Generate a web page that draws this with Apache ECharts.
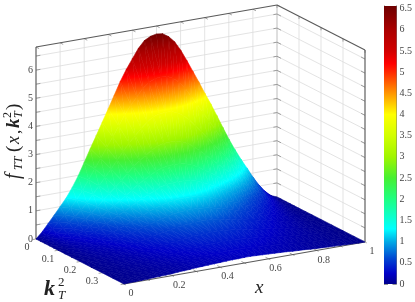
<!DOCTYPE html>
<html><head><meta charset="utf-8">
<style>html,body{margin:0;padding:0;background:#fff}#c{width:415px;height:302px}</style>
<script src="https://cdn.jsdelivr.net/npm/echarts@6/dist/echarts.min.js"></script>
</head><body><div id="c"></div>
<script>
// ---- data ----
const xValues = [0,.025,.05,.075,.1,.125,.15,.175,.2,.225,.25,.275,.3,.325,.35,.375,.4,.425,.45,.475,.5,.525,.55,.575,.6,.625,.65,.675,.7,.725,.75,.775,.8,.825,.85,.875,.9,.925,.95,.975,1];
const kValues = [0,.02,.04,.06,.08,.1,.13,.16,.2,.25,.3,.35,.4];
const surfaceRow0  = [0,.21,.47,.73,1.0,1.27,1.6,1.98,2.42,2.87,3.3,3.74,4.18,4.63,5.08,5.47,5.81,6.14,6.38,6.49,6.54,6.51,6.37,6.15,5.82,5.42,5.0,4.58,4.14,3.72,3.27,2.81,2.36,1.95,1.57,1.22,.86,.54,.28,.09,0];
const surfaceRow1  = [0,.16,.37,.57,.78,.99,1.25,1.54,1.89,2.24,2.57,2.92,3.26,3.61,3.96,4.27,4.53,4.79,4.98,5.06,5.10,5.08,4.97,4.80,4.54,4.23,3.90,3.57,3.23,2.90,2.55,2.19,1.84,1.52,1.22,.95,.67,.42,.22,.07,0];
const surfaceRow2  = [0,.13,.28,.44,.60,.76,.96,1.19,1.45,1.72,1.98,2.24,2.51,2.78,3.05,3.28,3.49,3.68,3.83,3.89,3.92,3.91,3.82,3.69,3.49,3.25,3.0,2.75,2.48,2.23,1.96,1.69,1.42,1.17,.94,.73,.52,.32,.17,.05,0];
const surfaceRow3  = [0,.09,.21,.33,.45,.57,.72,.89,1.09,1.29,1.49,1.68,1.88,2.08,2.29,2.46,2.61,2.76,2.87,2.92,2.94,2.93,2.87,2.77,2.62,2.44,2.25,2.06,1.86,1.67,1.47,1.26,1.06,.88,.71,.55,.39,.24,.13,.04,0];
const surfaceRow4  = [0,.07,.16,.25,.34,.43,.54,.67,.82,.98,1.12,1.27,1.42,1.57,1.73,1.86,1.98,2.09,2.17,2.21,2.22,2.21,2.17,2.09,1.98,1.84,1.70,1.56,1.41,1.26,1.11,.96,.80,.66,.53,.41,.29,.18,.10,.03,0];
const surfaceRow5  = [0,.05,.12,.19,.26,.33,.42,.51,.63,.75,.86,.97,1.09,1.20,1.32,1.42,1.51,1.60,1.66,1.69,1.70,1.69,1.66,1.60,1.51,1.41,1.30,1.19,1.08,.97,.85,.73,.61,.51,.41,.32,.22,.14,.07,.02,0];
const surfaceRow6  = [0,.04,.09,.14,.19,.24,.30,.38,.46,.55,.63,.71,.79,.88,.97,1.04,1.10,1.17,1.21,1.23,1.24,1.24,1.21,1.17,1.11,1.03,.95,.87,.79,.71,.62,.53,.45,.37,.30,.23,.16,.10,.05,.02,0];
const surfaceRow7  = [0,.03,.07,.11,.15,.18,.23,.29,.35,.42,.48,.54,.61,.67,.74,.79,.84,.89,.93,.94,.95,.94,.92,.89,.84,.79,.73,.66,.60,.54,.47,.41,.34,.28,.23,.18,.12,.08,.04,.01,0];
const surfaceRow8  = [0,.02,.05,.08,.11,.13,.17,.21,.25,.30,.35,.39,.44,.49,.53,.57,.61,.64,.67,.68,.69,.68,.67,.65,.61,.57,.53,.48,.43,.39,.34,.30,.25,.20,.16,.13,.09,.06,.03,.01,0];
const surfaceRow9  = [0,.02,.04,.05,.08,.10,.12,.15,.18,.22,.25,.28,.31,.35,.38,.41,.44,.46,.48,.49,.49,.49,.48,.46,.44,.41,.38,.34,.31,.28,.25,.21,.18,.15,.12,.09,.06,.04,.02,.01,0];
const surfaceRow10 = [0,.01,.03,.04,.06,.07,.09,.11,.13,.16,.18,.21,.23,.25,.28,.30,.32,.34,.35,.36,.36,.36,.35,.34,.32,.30,.28,.25,.23,.20,.18,.15,.13,.11,.09,.07,.05,.03,.02,0,0];
const surfaceRow11 = [0,.01,.02,.03,.04,.05,.06,.08,.10,.11,.13,.15,.17,.19,.20,.22,.23,.25,.26,.26,.26,.26,.25,.25,.23,.22,.20,.18,.17,.15,.13,.11,.09,.08,.06,.05,.03,.02,.01,0,0];
const surfaceRow12 = [0,.01,.01,.02,.03,.04,.05,.06,.07,.09,.10,.11,.13,.14,.15,.16,.17,.18,.19,.19,.20,.20,.19,.18,.17,.16,.15,.14,.12,.11,.10,.08,.07,.06,.05,.04,.03,.02,.01,0,0];
const surfaceRows = [surfaceRow0,surfaceRow1,surfaceRow2,surfaceRow3,surfaceRow4,surfaceRow5,surfaceRow6,surfaceRow7,surfaceRow8,surfaceRow9,surfaceRow10,surfaceRow11,surfaceRow12];

const xTicks = [0,.1,.2,.3,.4,.5,.6,.7,.8,.9,1];
const xLabels = [0,.2,.4,.6,.8,1];
const kTicks = [0,.1,.2,.3,.4];
const kLabels = [0,.1,.2,.3];
const zTicks = [0,.5,1,1.5,2,2.5,3,3.5,4,4.5,5,5.5,6,6.5];
const zLabels = [0,1,2,3,4,5,6];
const barTicks = [0,.5,1,1.5,2,2.5,3,3.5,4,4.5,5,5.5,6,6.5];
const colorStopValues = [0,.25,.6,1,1.3,2,2.5,3,3.5,4,4.5,5,5.2,5.5,6,6.56];
const colorStopColors = ['#00008c','#0000c8','#0046d2','#00aae6','#00ffff','#1eff82','#46f032','#a0f500','#d2ff00','#ffff00','#ff9600','#ff2800','#ff0000','#d20000','#aa0000','#6e0000'];
const zTop = 6.82, kMax = .4, colorMax = 6.56;

// ---- projection onto the main (hidden) cartesian axes ----
const PL = {left:36, top:5, width:329, height:279};
function proj(x,k,z){
  const kn = k/kMax;
  return [x*241/329 + kn*88/329, (45 + x*42 - kn*45 + z*28.15)/279];
}
function lerpColor(v){
  const n = colorStopValues.length;
  if (v<=colorStopValues[0]) return colorStopColors[0];
  for (let i=1;i<n;i++) if (v<=colorStopValues[i]) {
    const t=(v-colorStopValues[i-1])/(colorStopValues[i]-colorStopValues[i-1]);
    const a=echarts.color.parse(colorStopColors[i-1]), b=echarts.color.parse(colorStopColors[i]);
    return 'rgb('+[0,1,2].map(j=>Math.round(a[j]+(b[j]-a[j])*t)).join(',')+')';
  }
  return colorStopColors[n-1];
}
function gradientStops(z0,z1){
  const vals=[z0];
  colorStopValues.forEach(v=>{ if(v>z0 && v<z1) vals.push(v); });
  vals.push(z1);
  return vals.map(v=>({offset:(v-z0)/(z1-z0), color:lerpColor(v)}));
}

// ---- surface triangles, far to near; each cell is split along its flatter diagonal ----
const tris = [];
for (let ix=xValues.length-2; ix>=0; ix--) for (let ik=0; ik<kValues.length-1; ik++) {
  const a=surfaceRows[ik][ix], b=surfaceRows[ik][ix+1], c=surfaceRows[ik+1][ix], d=surfaceRows[ik+1][ix+1];
  if (Math.abs(b-c) <= Math.abs(a-d)) {
    tris.push([ix+1,ik, ix,ik, ix,ik+1]);
    tris.push([ix+1,ik, ix,ik+1, ix+1,ik+1]);
  } else {
    tris.push([ix+1,ik, ix,ik, ix+1,ik+1]);
    tris.push([ix,ik, ix,ik+1, ix+1,ik+1]);
  }
}
function renderTri(params, api){
  const t=tris[params.dataIndex];
  const pts=[], zs=[];
  for(let i=0;i<3;i++){
    const z=surfaceRows[t[i*2+1]][t[i*2]];
    pts.push(api.coord(proj(xValues[t[i*2]],kValues[t[i*2+1]],z))); zs.push(z);
  }
  const [p0,p1,p2]=pts;
  const det=(p1[0]-p0[0])*(p2[1]-p0[1])-(p2[0]-p0[0])*(p1[1]-p0[1]);
  const zmin=Math.min(...zs), zmax=Math.max(...zs);
  let fill=lerpColor((zmin+zmax)/2);
  if(Math.abs(det)>2 && zmax-zmin>1e-6){
    const a=((zs[1]-zs[0])*(p2[1]-p0[1])-(zs[2]-zs[0])*(p1[1]-p0[1]))/det;
    const b=((p1[0]-p0[0])*(zs[2]-zs[0])-(p2[0]-p0[0])*(zs[1]-zs[0]))/det;
    const m=Math.sqrt(a*a+b*b), ux=a/m, uy=b/m;
    // the gradient runs one pixel past the triangle, so the seam stroke keeps the true colour
    const s=pts[zs.indexOf(zmin)], len=(zmax-zmin)/m;
    fill=new echarts.graphic.LinearGradient(s[0]-ux,s[1]-uy,s[0]+ux*(len+1),s[1]+uy*(len+1),gradientStops(zmin-m,zmax+m),true);
  }
  return {type:'polygon',shape:{points:pts},style:{fill:fill,stroke:fill,lineWidth:.6}};
}

// ---- box, grid lines and ticks ----
const GRID='#dcdcdc', EDGE='#5a5a5a', TICK='#8a8a8a';
const segs=[];
function seg(a,b,color,w){segs.push({a,b,color,w});}
xTicks.forEach(x=>seg([x,0,0],[x,0,zTop],GRID,.8));
kTicks.forEach(k=>seg([1,k,0],[1,k,zTop],k===0?'#c4c4c4':GRID,.8));
zTicks.forEach(z=>{seg([0,0,z],[1,0,z],GRID,.8);seg([1,0,z],[1,kMax,z],GRID,.8);});
zTicks.forEach(z=>{seg([0,0,z],[.018,0,z],TICK,.8);seg([1,0,z],[.985,0,z],TICK,.8);seg([1,kMax,z],[1,kMax-.018,z],TICK,.8);seg([1,0,z],[1,.018,z],TICK,.8);});
xTicks.forEach(x=>{seg([x,0,zTop],[x,.014,zTop],TICK,.8);seg([x,kMax,0],[x,kMax-.014,0],TICK,.8);seg([x,kMax,0],[x,kMax+.008,0],TICK,.8);});
kTicks.forEach(k=>{seg([1,k,zTop],[1,k,zTop-.1],TICK,.8);seg([0,k,0],[-.014,k,0],TICK,.8);});
seg([0,0,0],[0,0,zTop],EDGE,1.1);
seg([0,0,zTop],[1,0,zTop],EDGE,1.1);
seg([1,0,zTop],[1,kMax,zTop],EDGE,1.1);
seg([1,kMax,zTop],[1,kMax,0],EDGE,1.1);
seg([0,kMax,0],[1,kMax,0],EDGE,1.1);
seg([1,kMax,0],[1,0,0],GRID,.8);
function renderSeg(params,api){
  const s=segs[params.dataIndex];
  const a=api.coord(proj(...s.a)),b=api.coord(proj(...s.b));
  return {type:'line',shape:{x1:a[0],y1:a[1],x2:b[0],y2:b[1]},style:{stroke:s.color,lineWidth:s.w}};
}

// ---- tick labels ----
const TXT='#444';
const labels=[];
zLabels.forEach(z=>labels.push({p:[0,0,z],t:String(z),dx:-5.5,dy:0}));
kLabels.forEach(k=>labels.push({p:[0,k,0],t:String(k),dx:k===0?-9:-10,dy:k===0?8:9}));
xLabels.forEach(x=>labels.push({p:[x,kMax,0],t:String(x),dx:7,dy:9.5}));
function renderLabel(params,api){
  const l=labels[params.dataIndex];
  const c=api.coord(proj(...l.p));
  return {type:'text',x:c[0]+l.dx,y:c[1]+l.dy,style:{text:l.t,fill:TXT,font:'10px "Liberation Serif"',align:'center',verticalAlign:'middle'}};
}

function renderBar(params,api){
  const a=api.coord([0,0]),b=api.coord([1,colorMax]);
  const stops=colorStopValues.map((v,i)=>({offset:v/colorMax,color:colorStopColors[i]}));
  return {type:'rect',shape:{x:a[0],y:b[1],width:b[0]-a[0],height:a[1]-b[1]},
    style:{fill:new echarts.graphic.LinearGradient(0,a[1],0,b[1],stops,true)}};
}

const SERIF='"Liberation Serif"';
function t(x,y,text,size,extra){return {type:'text',x,y,style:{text,fill:'#222',font:(extra||'italic')+' '+size+'px '+SERIF,align:'left',verticalAlign:'middle'}};}

const chart=echarts.init(document.getElementById('c'),null,{renderer:'canvas'});
chart.setOption({
  animation:false,
  backgroundColor:'#fff',
  grid:[
    {left:PL.left,top:PL.top,width:PL.width,height:PL.height,show:false},
    {left:384,top:6,width:13,height:278,show:false}
  ],
  xAxis:[
    {gridIndex:0,type:'value',min:0,max:1,show:false},
    {gridIndex:1,type:'value',min:0,max:1,show:false}
  ],
  yAxis:[
    {gridIndex:0,type:'value',min:0,max:1,show:false},
    {gridIndex:1,type:'value',min:0,max:colorMax,position:'right',
      axisLine:{show:true,onZero:false,lineStyle:{color:'#777',width:1}},
      axisTick:{show:true,inside:true,length:4,customValues:barTicks,lineStyle:{color:'#777',width:.8}},
      splitLine:{show:false},
      axisLabel:{show:true,customValues:barTicks,formatter:v=>String(v),margin:3,color:TXT,fontFamily:'Liberation Serif',fontSize:10}},
    {gridIndex:1,type:'value',min:0,max:colorMax,position:'left',
      axisLine:{show:true,onZero:false,lineStyle:{color:'#777',width:1}},
      axisTick:{show:true,inside:true,length:4,customValues:barTicks,lineStyle:{color:'#777',width:.8}},
      splitLine:{show:false},axisLabel:{show:false}}
  ],
  series:[
    {type:'custom',coordinateSystem:'cartesian2d',xAxisIndex:0,yAxisIndex:0,clip:false,silent:true,z:1,progressive:0,
      data:segs.map((s,i)=>[i]),encode:{x:0},renderItem:renderSeg},
    {type:'custom',coordinateSystem:'cartesian2d',xAxisIndex:0,yAxisIndex:0,clip:false,silent:true,z:2,progressive:0,
      data:tris.map((s,i)=>[i]),encode:{x:0},renderItem:renderTri},
    {type:'custom',coordinateSystem:'cartesian2d',xAxisIndex:0,yAxisIndex:0,clip:false,silent:true,z:3,progressive:0,
      data:labels.map((s,i)=>[i]),encode:{x:0},renderItem:renderLabel},
    {type:'custom',coordinateSystem:'cartesian2d',xAxisIndex:1,yAxisIndex:1,clip:false,silent:true,z:1,
      data:[[0]],encode:{x:0},renderItem:renderBar}
  ],
  graphic:[
    t(255,288,'x',19),
    t(44,289,'k',22,'italic bold'),
    t(58,283,'2',13,'normal'),
    t(58,296,'T',13),
    {type:'group',x:14,y:179,rotation:Math.PI/2,children:[
      t(0,0,'f',20),
      t(9,5,'TT',12),
      t(27,0,'(',19,'normal'),
      t(35,0,'x',18),
      t(45,2,',',17,'normal'),
      t(51,0,'k',19,'italic bold'),
      t(61,-6,'2',12,'normal'),
      t(61,5,'T',12),
      t(69,0,')',19,'normal')
    ]}
  ]
});
</script></body></html>
